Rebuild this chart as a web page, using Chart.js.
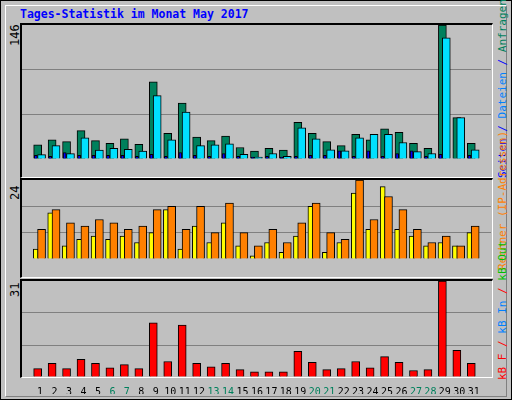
<!DOCTYPE html>
<html>
<head>
<meta charset="utf-8">
<script src="https://cdn.jsdelivr.net/npm/chart.js@4/dist/chart.umd.min.js"></script>
<style>
  body { margin: 0; background: #fff; }
  #frame { position: absolute; left: 0; top: 0; width: 510px; height: 398px; background: #C0C0C0; border: 1px solid #000; }
  #inner { position: absolute; left: 4px; top: 4px; width: 500px; height: 390px; border-left: 1px solid #fff; border-top: 1px solid #fff; border-right: 1px solid #808080; border-bottom: 1px solid #808080; }
  .panel { position: absolute; left: 20px; width: 470px; background: #C0C0C0; border-top: 2px solid #000; border-left: 2px solid #000; border-right: 1px solid #fff; border-bottom: 1px solid #fff; }
  canvas { position: absolute; left: 22px; }
  .t { position: absolute; font-family: "DejaVu Sans Mono", monospace; font-size: 11px; white-space: nowrap; }
  .rot { transform-origin: left top; transform: rotate(-90deg); }
</style>
</head>
<body>
<div id="frame"><div id="inner"></div></div>
<div class="t" style="left:20px;top:7px;color:#0000FF;font-weight:bold;font-size:11.5px;">Tages-Statistik im Monat May 2017</div>

<div class="panel" style="top:23px;height:152px;"></div>
<div class="panel" style="top:178px;height:97px;"></div>
<div class="panel" style="top:279px;height:96px;"></div>

<canvas id="c1" width="469" height="151" style="top:25px;"></canvas>
<canvas id="c2" width="469" height="96" style="top:180px;"></canvas>
<canvas id="c3" width="469" height="113" style="top:281px;"></canvas>

<div class="t rot" style="left:8px;top:46px;font-size:12px;">146</div>
<div class="t rot" style="left:8px;top:200px;font-size:12px;">24</div>
<div class="t rot" style="left:8px;top:297px;font-size:12px;">31</div>

<div class="t rot" style="left:496px;top:178px;color:#0000FF;">Seiten / <span style="color:#0080FF">Dateien</span> / <span style="color:#00805C">Anfragen</span></div>
<div class="t rot" style="left:496px;top:270px;color:#FF8000;">Rechner (IP-Adressen)</div>
<div class="t rot" style="left:496px;top:380px;color:#FF0000;">kB F / <span style="color:#0080FF">kB In</span> / <span style="color:#00C000">kB Out</span></div>

<script>
const days = Array.from({ length: 31 }, (_, i) => i + 1);
const weekend = [6, 7, 13, 14, 20, 21, 27, 28];

const hits  = [15.5, 21, 19, 31, 20, 17, 22, 16, 84, 28, 61, 24, 20, 25, 12.5, 8.7, 11.6, 9.7, 40, 28, 19, 14.5, 27, 21, 33, 29, 17, 11.6, 146, 45, 17];
const files = [4.8, 14.5, 5.8, 23, 9.7, 11.6, 10.6, 8.7, 69, 21, 51, 14.5, 15.5, 16.4, 5, 2, 6, 3, 34, 22, 10, 9, 23, 27, 27, 18, 8, 6, 132, 45, 10];
const pages = [4, 3, 7, 4, 4, 4, 4, 3, 5, 3, 7, 4, 3, 6, 3, 2, 3, 2, 3, 4, 4, 9, 3, 9, 3, 6, 9, 3, 5, 0.5, 4];

const visits = [3, 14, 4, 6, 7, 6, 7, 5, 8, 15, 3, 10, 5, 11, 4, 1, 5, 2, 7, 16, 2, 5, 20, 9, 22, 9, 7, 4, 5, 4, 8];
const sites  = [9, 15, 11, 10, 12, 11, 9, 10, 15, 16, 9, 16, 8, 17, 8, 4, 9, 5, 11, 17, 8, 6, 24, 12, 19, 15, 9, 5, 7, 4, 10];

const kbytes = [2.7, 4.4, 2.7, 5.7, 4.4, 3, 4, 2.7, 17.5, 5, 16.8, 4.4, 3.3, 4.4, 2.4, 1.7, 1.7, 1.7, 8.3, 4.7, 2.4, 2.7, 5, 3, 6.6, 4.7, 2.1, 2.4, 31, 8.6, 4.4];

const yMax = [146, 24, 31];

const pts = (vals, off) => vals.map((v, i) => ({ x: days[i] + off, y: v }));

function bar(vals, off, color, w, order) {
    return { data: pts(vals, off), backgroundColor: color, borderColor: '#000', borderWidth: 1,
             barThickness: w, order: order, grouped: false, borderSkipped: 'bottom' };
}

function makeChart(id, datasets, max, showX) {
    return new Chart(document.getElementById(id), {
        type: 'bar',
        data: { datasets: datasets },
        options: {
            responsive: false,
            animation: false,
            layout: { padding: 0 },
            plugins: { legend: { display: false }, tooltip: { enabled: false } },
            scales: {
                x: {
                    type: 'linear', min: 0.27, max: 31.67, display: showX,
                    grid: { display: false }, border: { display: false },
                    afterBuildTicks: s => { s.ticks = days.map(d => ({ value: d })); },
                    afterFit: s => { s.height = 17; },
                    ticks: {
                        padding: 1,
                        autoSkip: false,
                        maxRotation: 0,
                        font: { family: 'DejaVu Sans Mono', size: 10 },
                        color: ctx => weekend.includes(ctx.tick.value) ? '#00805C' : '#000'
                    }
                },
                y: {
                    min: 0, max: max,
                    afterBuildTicks: s => { s.ticks = [0, max / 3, 2 * max / 3, max].map(v => ({ value: v })); },
                    afterFit: s => { s.width = 0; },
                    ticks: { display: false },
                    border: { display: false },
                    grid: { drawTicks: false, color: ctx => (ctx.index === 1 || ctx.index === 2) ? '#808080' : 'rgba(0,0,0,0)' }
                }
            }
        }
    });
}

makeChart('c1', [
    bar(hits, -0.17, '#00805C', 8, 3),
    bar(files, 0.1, '#00E0FF', 8, 2),
    bar(pages, -0.3, '#0000FF', 3, 1)
], yMax[0], false);

makeChart('c2', [
    bar(visits, -0.3, '#FFFF00', 5, 2),
    bar(sites, 0.1, '#FF8000', 8, 1)
], yMax[1], false);

makeChart('c3', [
    bar(kbytes, -0.17, '#FF0000', 8, 1)
], yMax[2], true);
</script>
</body>
</html>
